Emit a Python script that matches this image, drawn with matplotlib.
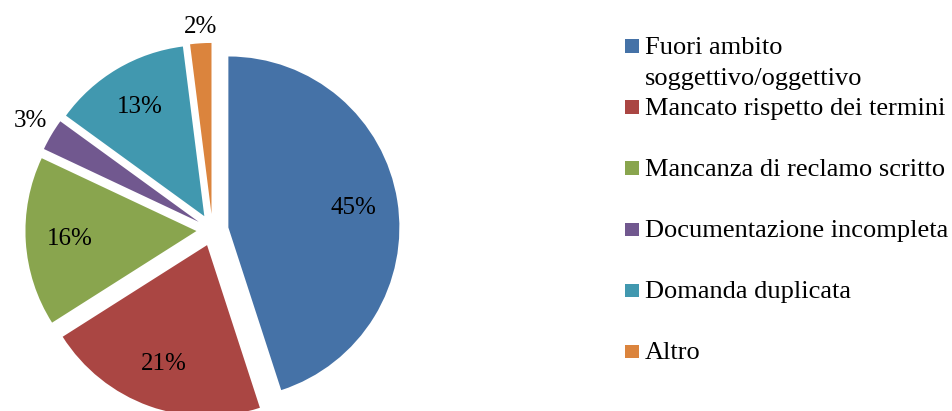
import matplotlib
matplotlib.use("Agg")
import matplotlib.pyplot as plt
from matplotlib.patches import Rectangle
import numpy as np

# data
categories = [
    "Fuori ambito\nsoggettivo/oggettivo",
    "Mancato rispetto dei termini",
    "Mancanza di reclamo scritto",
    "Documentazione incompleta",
    "Domanda duplicata",
    "Altro",
]
shares = [45, 21, 16, 3, 13, 2]
colors = ["#4572A7", "#AA4643", "#89A54E", "#71588F", "#4198AF", "#DB843D"]

plt.rcParams['font.family'] = ['Liberation Serif', 'DejaVu Serif']

W, H = 952, 411
fig = plt.figure(figsize=(W / 100, H / 100), dpi=100)

# pie placement in pixels
R = 171
cx, cy = 212.5, H - 230
a = 1.35
ax = fig.add_axes([(cx - a * R) / W, (cy - a * R) / H, 2 * a * R / W, 2 * a * R / H])

wedges, _, pcts = ax.pie(
    shares, colors=colors, startangle=90, counterclock=False,
    explode=[0.094] * len(shares), autopct='%1.0f%%', pctdistance=0.74,
    textprops=dict(fontsize=18), wedgeprops=dict(linewidth=0),
)
ax.set_xlim(-a, a)
ax.set_ylim(-a, a)
ax.axis('off')

# small slices get their label just outside the rim
for w, t, v in zip(wedges, pcts, shares):
    if v < 5:
        th = np.deg2rad((w.theta1 + w.theta2) / 2)
        c, s = np.cos(th), np.sin(th)
        t.set_position((w.center[0] + 1.03 * c, w.center[1] + 1.03 * s))
        t.set_ha('right' if c < -0.3 else ('left' if c > 0.3 else 'center'))
        t.set_va('bottom' if s > 0.3 else ('top' if s < -0.3 else 'center'))

# legend drawn by hand so the marker sits on the first line of a wrapped label
mark_x, text_x = 625, 645
y0, step, line_step = 46, 61.1, 31
sq = 13.5
for i, (lab, col) in enumerate(zip(categories, colors)):
    yc = y0 + i * step
    fig.add_artist(Rectangle((mark_x / W, 1 - (yc + sq / 2) / H), sq / W, sq / H,
                             transform=fig.transFigure, facecolor=col, edgecolor='none'))
    for k, line in enumerate(lab.split("\n")):
        fig.text(text_x / W, 1 - (yc + 7.8 + k * line_step) / H, line,
                 fontsize=19, ha='left', va='baseline')

fig.savefig("out.png", dpi=100)
